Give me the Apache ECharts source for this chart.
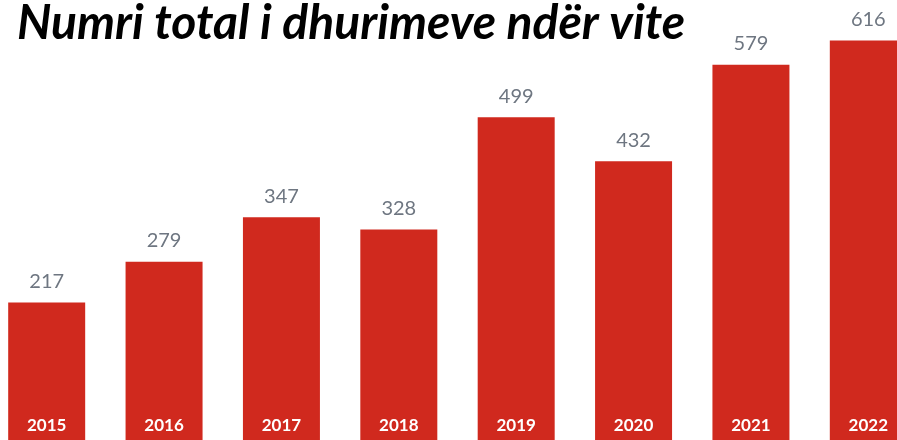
<!DOCTYPE html>
<html><head><meta charset="utf-8">
<script src="https://cdn.jsdelivr.net/npm/echarts@6/dist/echarts.min.js"></script>
<style>html,body{margin:0;padding:0;background:#fff;overflow:hidden;width:897px;height:440px;position:relative}#c{position:absolute;left:-12px;top:0;width:939px;height:445px}</style>
</head><body><div id="c"></div>
<script>
const titleText = "Numri total i dhurimeve ndër vite";
const years = ["2015","2016","2017","2018","2019","2020","2021","2022"];
const donations = [217, 279, 347, 328, 499, 432, 579, 616];

const chart = echarts.init(document.getElementById('c'));
chart.setOption({
  animation: false,
  backgroundColor: '#fff',
  title: {
    text: titleText, left: 24, top: -5,
    textStyle: { fontFamily: 'Lato', fontStyle: 'italic', fontWeight: 'bold', fontSize: 48, color: '#000' }
  },
  grid: { left: 0, right: 0, top: 0, bottom: 0, containLabel: false },
  xAxis: {
    type: 'category', data: years, z: 10,
    axisLine: { show: false }, axisTick: { show: false },
    axisLabel: { inside: true, margin: 11, color: '#fff', fontFamily: 'Lato', fontWeight: 'bold', fontSize: 17 }
  },
  yAxis: { type: 'value', min: 0, max: 677.7, show: false, splitLine: { show: false } },
  series: [{
    type: 'bar', data: donations, barCategoryGap: '34.4%',
    itemStyle: { color: '#d0291e' },
    label: { show: true, position: 'top', distance: 11, color: '#6e7681', fontFamily: 'Lato', fontSize: 20 }
  }]
});
</script></body></html>
